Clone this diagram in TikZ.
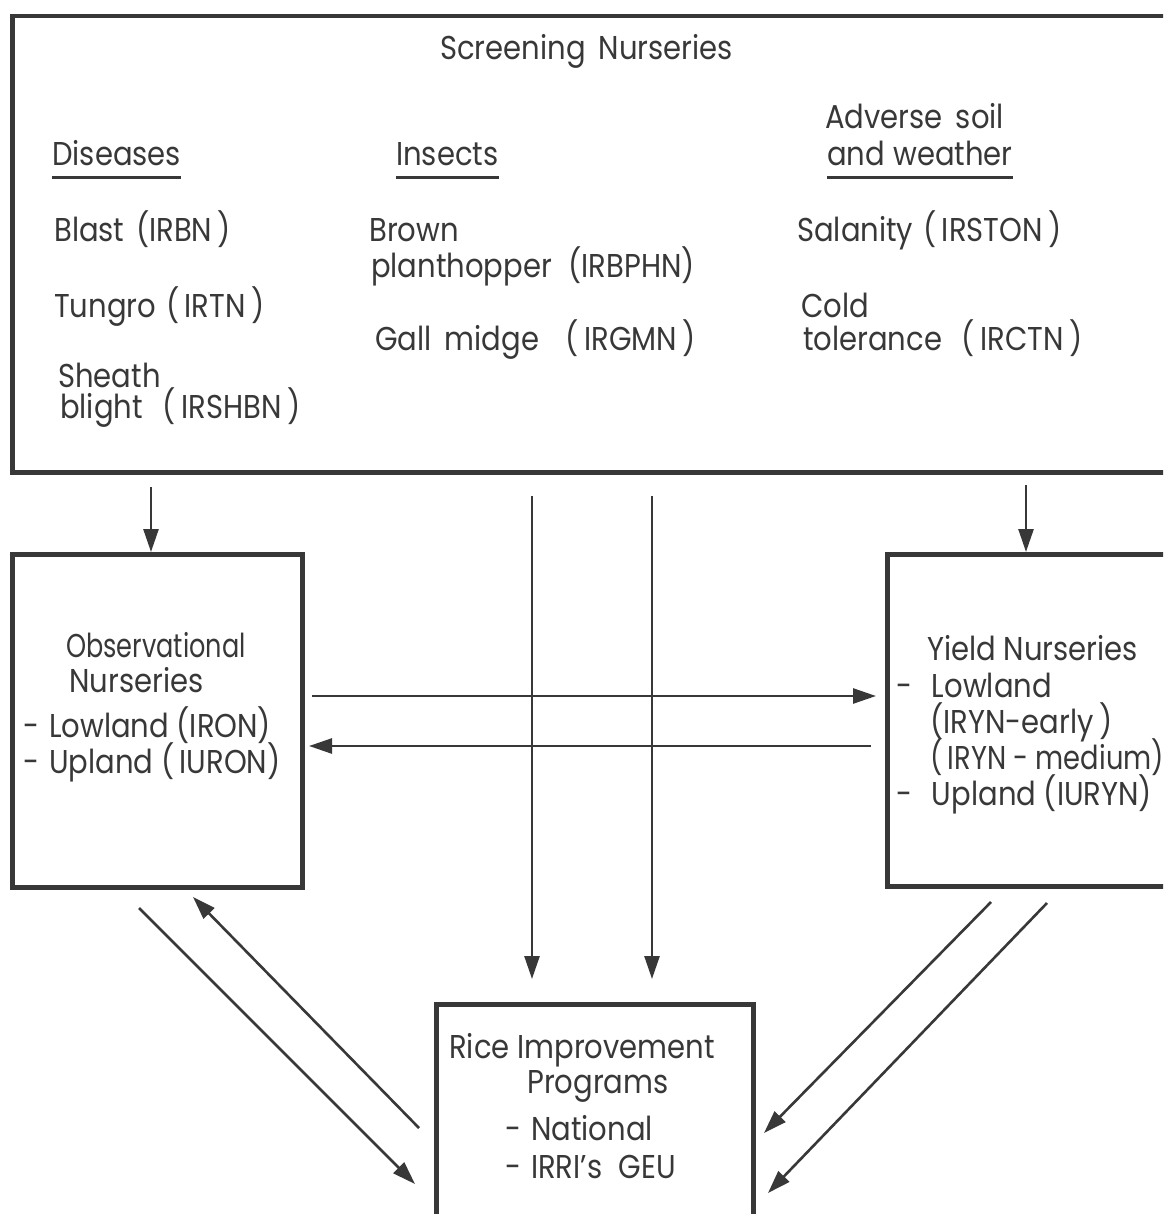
\documentclass[tikz,border=0pt]{standalone}
\usepackage{fontspec}
\setmainfont{Poppins}[FakeStretch=0.88]
\usetikzlibrary{arrows.meta}
\definecolor{ink}{HTML}{383838}
\tikzset{
  boxline/.style={draw=ink, line width=4.5pt, inner sep=0pt, anchor=north west},
  conn/.style={draw=ink, line width=2.6pt, -{Triangle[length=23pt,width=15pt]}},
  uline/.style={draw=ink, line width=3pt},
  lbl/.style={anchor=base west, inner sep=0pt, text=ink, font=\fontsize{33}{39}\selectfont},
  narrow/.style={transform shape, xscale=#1},
}
\begin{document}
\begin{tikzpicture}[x=1pt,y=-1pt]
\useasboundingbox (0,0) rectangle (1163,1214);
\clip (0,0) rectangle (1163,1214);
\fill[white] (0,0) rectangle (1163,1214);

% boxes
\node[boxline, minimum width=1180pt, minimum height=456pt] (screen) at (10,14) {};
\node[boxline, minimum width=290pt, minimum height=333pt] (obs) at (10,552) {};
\node[boxline, minimum width=310pt, minimum height=332pt] (yield) at (885,552) {};
\node[boxline, minimum width=317pt, minimum height=240pt] (rip) at (434,1002) {};

% screening nurseries
\node[lbl] (sn) at (440,60) {Screening\hspace{0.4em}Nurseries};
\node[lbl] (dis) at (52,166) {Diseases};
\node[lbl] (ins) at (396,166) {Insects};
\node[lbl] (adv1) at (825,129) {Adverse\hspace{0.4em}soil};
\node[lbl] (adv2) at (827,166) {and\hspace{0.25em}weather};
\draw[uline] ([yshift=-12pt]dis.base west) -- ([yshift=-12pt]dis.base east);
\draw[uline] ([yshift=-12pt]ins.base west) -- ([yshift=-12pt]ins.base east);
\draw[uline] ([yshift=-12pt]adv2.base west) -- ([yshift=-12pt]adv2.base east);

\node[lbl] (t1) at (54,242) {Blast\hspace{0.35em}(IRBN\,)};
\node[lbl] (t2) at (54,317) {Tungro\hspace{0.3em}(\,IRTN\,)};
\node[lbl] (t3) at (58,387) {Sheath};
\node[lbl] (t4) at (60,418) {blight\hspace{0.6em}(\,IRSHBN\,)};
\node[lbl] (t5) at (369,242) {Brown};
\node[lbl] (t6) at (371,278) {planthopper\hspace{0.5em}(IRBPHN)};
\node[lbl] (t7) at (375,350) {Gall\hspace{0.4em}midge\hspace{0.8em}(\,IRGMN\,)};
\node[lbl] (t8) at (797,242) {Salanity\hspace{0.3em}(\,IRSTON\,)};
\node[lbl] (t9) at (801,317) {Cold};
\node[lbl] (t10) at (803,350) {tolerance\hspace{0.6em}(\,IRCTN\,)};

% observational nurseries
\node[lbl, narrow=0.88] (o1) at (66,657) {Observational};
\node[lbl] (o2) at (69,692) {Nurseries};
\node[lbl] (o3) at (23,737) {-\hspace{0.3em}Lowland (IRON)};
\node[lbl] (o4) at (23,773) {-\hspace{0.3em}Upland (\,IURON)};

% yield nurseries
\node[lbl] (y1) at (927,660) {Yield Nurseries};
\node[lbl] (y2) at (896,697) {-\hspace{0.6em}Lowland};
\node[lbl] (y3) at (930,733) {(IRYN-early\,)};
\node[lbl, narrow=0.94] (y4) at (930,769) {(\,IRYN - medium)};
\node[lbl] (y5) at (896,805) {-\hspace{0.6em}Upland (IURYN)};

% rice improvement programs
\node[lbl] (r1) at (449,1058) {Rice Improvement};
\node[lbl] (r2) at (527,1093) {Programs};
\node[lbl] (r3) at (505,1140) {-\hspace{0.3em}National};
\node[lbl] (r4) at (505,1178) {-\hspace{0.3em}IRRI's\hspace{0.5em}GEU};

% connector end points
\coordinate (a1) at (151,487);
\coordinate (a2) at (1026,485);
\coordinate (v1s) at (532,496);
\coordinate (v1e) at (532,979);
\coordinate (v2s) at (652,496);
\coordinate (v2e) at (652,979);
\coordinate (hrs) at (312,696);
\coordinate (hre) at (876,696);
\coordinate (hls) at (871,746);
\coordinate (hle) at (309,746);
\coordinate (ds1) at (139,908);
\coordinate (de1) at (415,1184);
\coordinate (ds2) at (419,1128);
\coordinate (de2) at (193,897);
\coordinate (ds3) at (991,902);
\coordinate (de3) at (764,1133);
\coordinate (ds4) at (1047,903);
\coordinate (de4) at (768,1193);

% connectors
\draw[conn] (a1) -- (a1 |- obs.north);
\draw[conn] (a2) -- (a2 |- yield.north);
\draw[conn] (v1s) -- (v1e);
\draw[conn] (v2s) -- (v2e);
\draw[conn] (hrs) -- (hre);
\draw[conn] (hls) -- (hle);
\draw[conn] (ds1) -- (de1);
\draw[conn] (ds2) -- (de2);
\draw[conn] (ds3) -- (de3);
\draw[conn] (ds4) -- (de4);
\end{tikzpicture}
\end{document}
